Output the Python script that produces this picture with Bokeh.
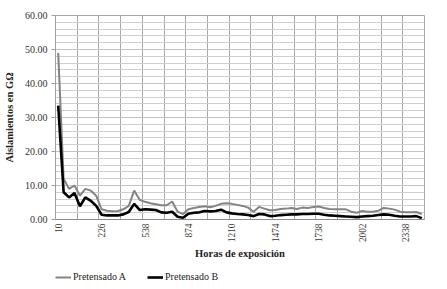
import math
from bokeh.plotting import figure
from bokeh.layouts import column
from bokeh.models import (Range1d, FixedTicker, SingleIntervalTicker, NumeralTickFormatter,
                          Legend, LegendItem)
from bokeh.embed import file_html
from bokeh.resources import INLINE

# ---- data ----
tick_labels = ["10", "226", "538", "874", "1210", "1474", "1738", "2002", "2338"]
label_step = 8          # one label every 8 categories
grid_step = 4           # one vertical gridline every 4 categories

pretensado_a = [49.0, 12.0, 9.0, 10.0, 7.0, 9.0, 8.5, 7.0, 3.0, 2.6,
                2.4, 2.5, 3.0, 4.0, 8.5, 5.8, 5.2, 4.8, 4.5, 4.2,
                4.2, 5.3, 2.3, 1.6, 3.0, 3.4, 3.7, 3.9, 3.6, 4.0,
                4.6, 4.8, 4.6, 4.3, 4.0, 3.5, 2.3, 3.7, 3.2, 2.7,
                2.8, 3.1, 3.2, 3.4, 3.1, 3.5, 3.4, 3.7, 3.8, 3.4,
                3.1, 3.0, 3.0, 3.0, 2.3, 2.0, 2.5, 2.3, 2.3, 2.6,
                3.4, 3.2, 2.9, 2.3, 2.1, 2.1, 2.2, 1.6]
pretensado_b = [33.5, 8.0, 6.5, 7.8, 3.9, 6.5, 5.5, 4.0, 1.4, 1.2,
                1.2, 1.2, 1.5, 2.2, 4.6, 2.8, 3.0, 2.9, 2.8, 2.1,
                2.0, 2.3, 0.8, 0.5, 1.7, 2.0, 2.1, 2.5, 2.4, 2.5,
                2.9, 2.1, 1.8, 1.6, 1.5, 1.3, 1.0, 1.6, 1.5, 1.0,
                1.1, 1.3, 1.4, 1.5, 1.5, 1.6, 1.6, 1.7, 1.7, 1.4,
                1.2, 1.1, 1.0, 0.9, 0.8, 0.7, 0.9, 1.0, 1.1, 1.3,
                1.5, 1.4, 1.1, 0.9, 0.9, 0.9, 1.0, 0.4]
series_names = ["Pretensado A", "Pretensado B"]
series_values = [pretensado_a, pretensado_b]
series_colors = ["#848484", "#000000"]
series_widths = [2, 2.6]

n = len(pretensado_a)
x = list(range(n))

FONT = "Liberation Serif"

p = figure(width=440, height=263, output_backend="svg", toolbar_location=None,
           x_range=Range1d(-0.5, n - 0.5), y_range=Range1d(0, 60),
           min_border_left=55, min_border_right=16, min_border_top=15, min_border_bottom=44,
           background_fill_color="white", border_fill_color="white")

p.outline_line_color = "#a8a8a8"
p.outline_line_width = 1

# y axis
p.yaxis.ticker = SingleIntervalTicker(interval=10, num_minor_ticks=5)
p.yaxis.formatter = NumeralTickFormatter(format="0.00")
p.yaxis.axis_label = "Aislamientos en GΩ"
p.yaxis.axis_label_text_font = FONT
p.yaxis.axis_label_text_font_style = "bold"
p.yaxis.axis_label_text_font_size = "10.5px"
p.yaxis.axis_label_text_color = "#222222"
p.yaxis.axis_label_standoff = 7
p.yaxis.major_label_text_font = FONT
p.yaxis.major_label_text_font_size = "10px"
p.yaxis.major_label_text_color = "#333333"
p.yaxis.major_label_standoff = 4
p.yaxis.axis_line_color = "#a0a0a0"
p.yaxis.major_tick_line_color = "#a0a0a0"
p.yaxis.major_tick_out = 4
p.yaxis.major_tick_in = 0
p.yaxis.minor_tick_line_color = None

# x axis
tick_pos = [i * label_step for i in range(len(tick_labels))]
p.xaxis.ticker = FixedTicker(ticks=tick_pos)
p.xaxis.major_label_overrides = {pos: lab for pos, lab in zip(tick_pos, tick_labels)}
p.xaxis.major_label_orientation = math.pi / 2
p.xaxis.major_label_text_font = FONT
p.xaxis.major_label_text_font_size = "9.3px"
p.xaxis.major_label_text_color = "#333333"
p.xaxis.major_label_standoff = 4
p.xaxis.axis_label = "Horas de exposición"
p.xaxis.axis_label_text_font = FONT
p.xaxis.axis_label_text_font_style = "bold"
p.xaxis.axis_label_text_font_size = "10.5px"
p.xaxis.axis_label_text_color = "#222222"
p.xaxis.axis_label_standoff = 3
p.xaxis.axis_line_color = "#8a8a8a"
p.xaxis.major_tick_line_color = None
p.xaxis.major_tick_out = 0
p.xaxis.major_tick_in = 0
p.xaxis.minor_tick_line_color = None
p.xaxis.minor_tick_out = 0

# grids
p.xgrid.ticker = FixedTicker(ticks=[-0.5 + k * grid_step for k in range(n // grid_step + 1)])
p.xgrid.grid_line_color = "#a8a8a8"
p.xgrid.grid_line_width = 1
p.ygrid.grid_line_color = "#c4c4c4"
p.ygrid.minor_grid_line_color = "#cfcfcf"

for vals, col, w in zip(series_values, series_colors, series_widths):
    p.line(x, vals, line_color=col, line_width=w)

# legend strip underneath (separate small figure; its lines lie outside its view)
pl = figure(width=440, height=23, output_backend="svg", toolbar_location=None,
            x_range=Range1d(-0.5, n - 0.5), y_range=Range1d(1000, 1001),
            min_border=0, background_fill_color="white", border_fill_color="white")
pl.axis.visible = False
pl.grid.visible = False
pl.outline_line_color = None
items = []
for name, vals, col, w in zip(series_names, series_values, series_colors, series_widths):
    r = pl.line(x, vals, line_color=col, line_width=w)
    items.append(LegendItem(label=name, renderers=[r]))
legend = Legend(items=items, orientation="horizontal", location=(0, 4),
                label_text_font=FONT, label_text_font_size="10px", label_text_color="#222222",
                glyph_width=16, glyph_height=10, label_standoff=2, spacing=21,
                padding=0, margin=0, border_line_color=None, background_fill_alpha=0,
                label_height=10)
pl.add_layout(legend)

layout = column(p, pl, spacing=0)
open("out.html", "w").write(file_html(layout, INLINE))
